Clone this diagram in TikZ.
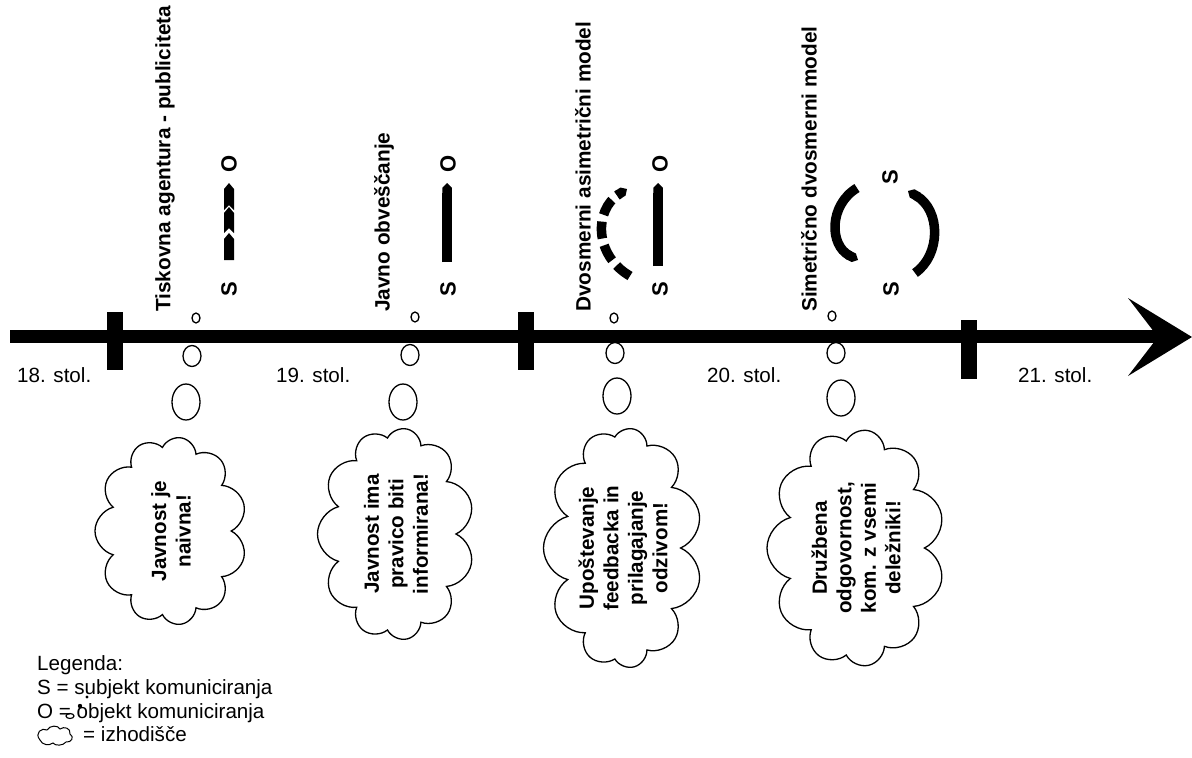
\documentclass[tikz,border=0pt]{standalone}
\usepackage{fontspec}
\setmainfont{Liberation Sans}
\usetikzlibrary{arrows.meta,shapes.symbols,shapes.geometric}
\tikzset{
  era/.style      ={font=\fontsize{20.6}{24}\selectfont,anchor=base west,inner sep=0pt},
  modeltitle/.style={font=\fontsize{20.8}{24}\selectfont\bfseries,rotate=90,anchor=west,inner sep=0pt},
  party/.style    ={font=\fontsize{22}{24}\selectfont\bfseries,rotate=90,inner sep=0pt},
  thought/.style  ={cloud,cloud puffs=11,cloud ignores aspect,draw,line width=1.3pt,rotate=90,
                    align=center,font=\fontsize{20.6}{24.5}\selectfont\bfseries,inner sep=0pt},
  bubble/.style   ={draw,line width=1.3pt},
  flowbar/.style  ={line width=9.5pt,-{Triangle Cap[]}},
  legtext/.style  ={font=\fontsize{20.6}{24}\selectfont,anchor=base west,inner sep=0pt},
}
\begin{document}
\begin{tikzpicture}[x=1pt,y=-1pt]
\useasboundingbox (0,0) rectangle (1192,758);
%% time axis
\draw[line width=13pt] (10,336.5) -- (1160,336.5);
\fill (1128,298) -- (1192,337) -- (1128,376) -- (1158,337) -- cycle;
\foreach \x/\ya/\yb in {107/312/370, 518/312/370, 961/320/379}
  \fill (\x,\ya) rectangle (\x+15.5,\yb);
\foreach \i/\x/\name in {18/17/18, 19/276/19, 20/707/20, 21/1018/21}
  \node[era] (c\i) at (\x,382) {\name. stol.};
%% model names
\node[modeltitle] (m1) at (165,312) {Tiskovna agentura - publiciteta};
\node[modeltitle] (m2) at (384,312) {Javno obveščanje};
\node[modeltitle] (m3) at (583,312) {Dvosmerni asimetrični model};
\node[modeltitle] (m4) at (809,312) {Simetrično dvosmerni model};
%% subject / object
\node[party] (o1) at (229,164) {O};
\node[party] (s1) at (229,289) {S};
\node[party] (o2) at (448,164) {O};
\node[party] (s2) at (448,289) {S};
\node[party] (o3) at (660,164) {O};
\node[party] (s3) at (660,289) {S};
\node[party] (s4a) at (890,177) {S};
\node[party] (s4b) at (891,289) {S};
% press agency: three chevrons
\foreach \t/\b/\n in {183/210/5, 207/233/5, 233/260/0}
  \fill (224,\b) -- (224,\t+6) -- (229,\t) -- (234,\t+6) -- (234,\b) -- (229,\b-\n) -- cycle;
\draw[flowbar] (447,262) -- (447,183);
\draw[flowbar] (658,266) -- (658,183);
\draw[flowbar,dash pattern=on 17pt off 7pt] (630,276) .. controls (594,255) and (594,210) .. (627,189);
\draw[flowbar] (857,188) .. controls (829,205) and (829,245) .. (858,260);
\draw[flowbar] (915,273) .. controls (941,255) and (941,210) .. (908,191);
%% thought bubbles
\foreach \a/\b/\c/\d/\e/\f in {196/318/192/356/186/402, 415/317/410/355/403/402,
                               614/318/615/353/617/396, 832/316/836/353/841/398}
{
  \draw[bubble] (\a,\b) ellipse[x radius=4,y radius=5];
  \draw[bubble] (\c,\d) ellipse[x radius=9,y radius=10.5];
  \draw[bubble] (\e,\f) ellipse[x radius=14,y radius=18];
}
\node[thought,minimum width=188,minimum height=152] (t1) at (171,531)
  {Javnost je\\naivna!};
\node[thought,minimum width=212,minimum height=157] (t2) at (396,534)
  {Javnost ima\\pravico biti\\informirana!};
\node[thought,minimum width=240,minimum height=153] (t3) at (623,548)
  {Upoštevanje\\feedbacka in\\prilagajanje\\odzivom!};
\node[thought,minimum width=237,minimum height=178] (t4) at (856,548)
  {Družbena\\odgovornost,\\kom. z vsemi\\deležniki!};
%% legend
\node[legtext] (l1) at (37,670) {Legenda:};
\node[legtext] (l2) at (37,694) {S = subjekt komuniciranja};
\node[legtext] (l3) at (37,718) {O = objekt komuniciranja};
\node[legtext] (l4) at (83,741) {= izhodišče};
\draw[line width=1pt] (40,740) .. controls (34,733) and (42,727) .. (47,730)
  .. controls (50,725) and (58,725) .. (60,729) .. controls (64,726) and (71,728) .. (70,734)
  .. controls (75,737) and (71,743) .. (66,742) .. controls (63,746) and (55,746) .. (53,743)
  .. controls (49,746) and (42,745) .. (40,740) -- cycle;
\fill (87,697) circle[radius=1.6];
\fill (80,706) circle[radius=2.2];
\draw[line width=1.2pt] (70,716) ellipse[x radius=4,y radius=2.5];
\end{tikzpicture}
\end{document}
